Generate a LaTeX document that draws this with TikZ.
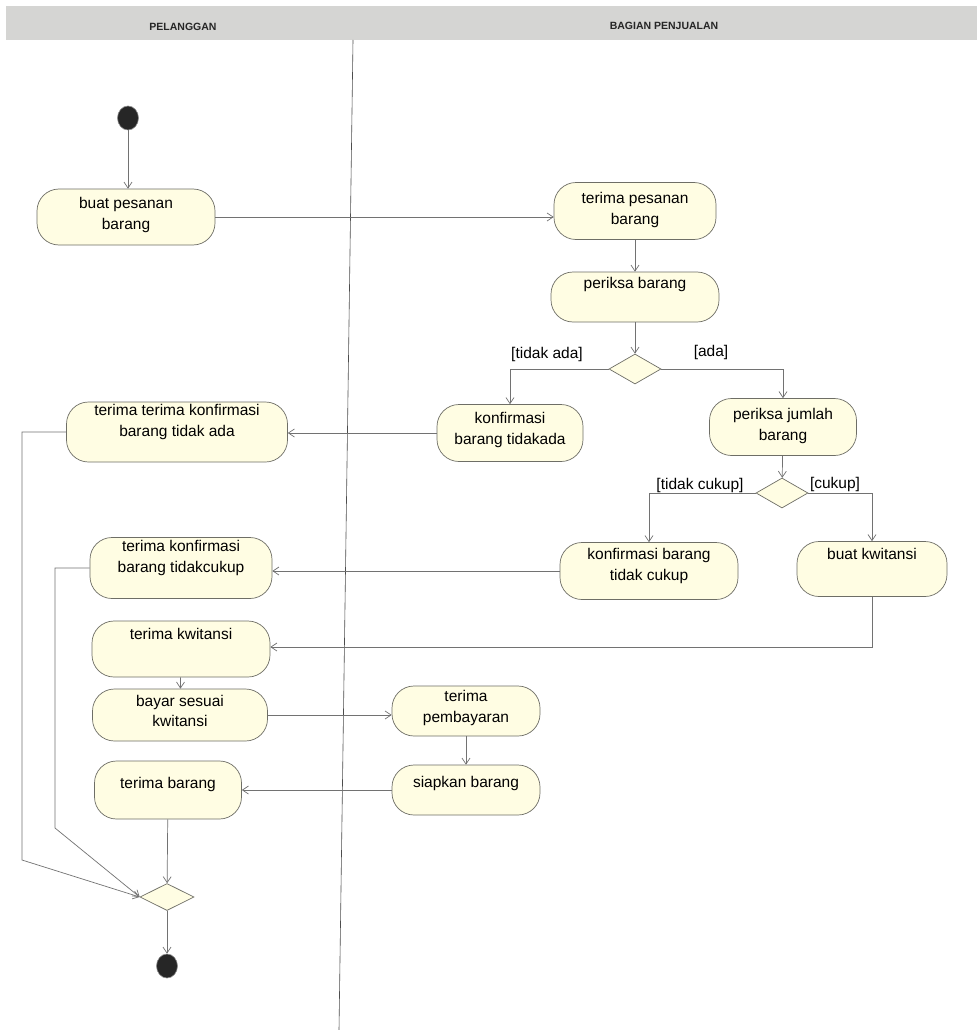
\documentclass[tikz,border=0pt]{standalone}
\usepackage{fontspec}
\setmainfont{Liberation Sans}
\usetikzlibrary{arrows.meta,shapes.geometric}
\definecolor{cream}{HTML}{FFFDE3}
\definecolor{edgec}{HTML}{6E6E66}
\definecolor{wire}{HTML}{727272}
\definecolor{hdr}{HTML}{D5D5D3}
\begin{document}
\begin{tikzpicture}[x=1pt,y=-1pt,
 act/.style={draw=edgec, line width=0.7pt, fill=cream, rounded corners=22pt, inner sep=0pt},
 txt/.style={font=\fontsize{15.5}{20.5}\selectfont, align=center, inner sep=0pt, text=black},
 dec/.style={diamond, draw=edgec, line width=0.7pt, fill=cream, inner sep=0pt, minimum width=52pt, minimum height=30pt},
 flow/.style={draw=wire, line width=0.7pt, -{Straight Barb[length=6pt,width=8pt]}},
 guard/.style={font=\fontsize{15.5}{18}\selectfont, inner sep=0pt, text=black},
 lane/.style={font=\bfseries\fontsize{10.5}{12}\selectfont, text=black!85},
 ucdot/.style={ellipse, fill=black!85, draw=black!45, line width=0.6pt, inner sep=0pt, minimum width=21pt, minimum height=24pt}
]
\useasboundingbox (0,0) rectangle (977,1030);
\fill[white] (0,0) rectangle (977,1030);
% swimlane header
\fill[hdr] (6,6) rectangle (977,40);
\node[lane] (pel) at (183,27) {PELANGGAN};
\node[lane] (bag) at (664,26) {BAGIAN PENJUALAN};
\coordinate (ltop) at (353,40);
\coordinate (lbot) at (339,1030);
\draw[black!70, line width=0.6pt] (ltop) -- (lbot);

% start / end
\node[ucdot] (start) at (128,118) {};
% activities (boxes)
\node[act, minimum width=178pt, minimum height=56pt] (buat) at (126,217) {};
\node[txt] (buatT) at (126,215) {buat pesanan\\barang};
\node[act, minimum width=162pt, minimum height=57pt] (tpesan) at (635,211) {};
\node[txt] (tpesanT) at (635,210) {terima pesanan\\barang};
\node[act, minimum width=168pt, minimum height=50pt] (periksa) at (635,297) {};
\node[txt] (periksaT) at (635,284) {periksa barang};
\node[dec] (d1) at (635,369) {};
\node[act, minimum width=146pt, minimum height=57pt] (konf1) at (510,433) {};
\node[txt] (konf1T) at (510,430) {konfirmasi\\barang tidakada};
\node[act, minimum width=147pt, minimum height=57pt] (pj) at (783,427) {};
\node[txt] (pjT) at (783,426) {periksa jumlah\\barang};
\node[dec] (d2) at (782,493) {};
\node[act, minimum width=221pt, minimum height=60pt] (tt) at (177,432) {};
\node[txt] (ttT) at (177,422) {terima terima konfirmasi\\barang tidak ada};
\node[act, minimum width=178pt, minimum height=57pt] (konf2) at (649,571) {};
\node[txt] (konf2T) at (649,566) {konfirmasi barang\\tidak cukup};
\node[act, minimum width=150pt, minimum height=55pt] (bk) at (872,569) {};
\node[txt] (bkT) at (872,554) {buat kwitansi};
\node[act, minimum width=182pt, minimum height=61pt] (tk) at (181,568) {};
\node[txt] (tkT) at (181,558) {terima konfirmasi\\barang tidakcukup};
\node[act, minimum width=178pt, minimum height=56pt] (tkw) at (181,649) {};
\node[txt] (tkwT) at (181,634) {terima kwitansi};
\node[act, minimum width=175pt, minimum height=52pt] (bayar) at (180,715) {};
\node[txt] (bayarT) at (180,711) {bayar sesuai\\kwitansi};
\node[act, minimum width=148pt, minimum height=50pt] (tp) at (466,711) {};
\node[txt] (tpT) at (466,708) {terima\\pembayaran};
\node[act, minimum width=148pt, minimum height=50pt] (siap) at (466,790) {};
\node[txt] (siapT) at (466,783) {siapkan barang};
\node[act, minimum width=147pt, minimum height=58pt] (tb) at (168,790) {};
\node[txt] (tbT) at (168,784) {terima barang};
\node[dec, minimum width=54pt, minimum height=27pt] (merge) at (167,897) {};
\node[ucdot] (end) at (167,966) {};

% guards
\node[guard] (g1) at (547,354) {[tidak ada]};
\node[guard] (g2) at (711,352) {[ada]};
\node[guard] (g3) at (700,485) {[tidak cukup]};
\node[guard] (g4) at (835,484) {[cukup]};

% connectors
\draw[flow] (start) -- (buat.north -| start);
\draw[flow] (buat.east) -- (buat.east -| tpesan.west);
\draw[flow] (tpesan) -- (periksa);
\draw[flow] (periksa) -- (d1);
\draw[flow] (d1.west) -| (konf1.north);
\draw[flow] (d1.east) -| (pj.north);
\draw[flow] (konf1.west) -- (konf1.west -| tt.east);
\draw[flow] (pj) -- (d2);
\draw[flow] (d2.west) -| (konf2.north);
\draw[flow] (d2.east) -| (bk.north);
\draw[flow] (konf2.west) -- (konf2.west -| tk.east);
\coordinate (bkturn) at (872,647);
\draw[flow] (bk.south) -- (bkturn) -- (bkturn -| tkw.east);
\draw[flow] (tkw) -- (bayar);
\draw[flow] (bayar.east) -- (bayar.east -| tp.west);
\draw[flow] (tp) -- (siap);
\draw[flow] (siap.west) -- (siap.west -| tb.east);
\draw[flow] (tb) -- (merge);
\coordinate (c1) at (22,860);
\draw[flow] (tt.west) -| (c1) -- (merge.west);
\coordinate (c2) at (55,828);
\draw[flow] (tk.west) -| (c2) -- (merge.west);
\draw[flow] (merge) -- (end);
\end{tikzpicture}
\end{document}
